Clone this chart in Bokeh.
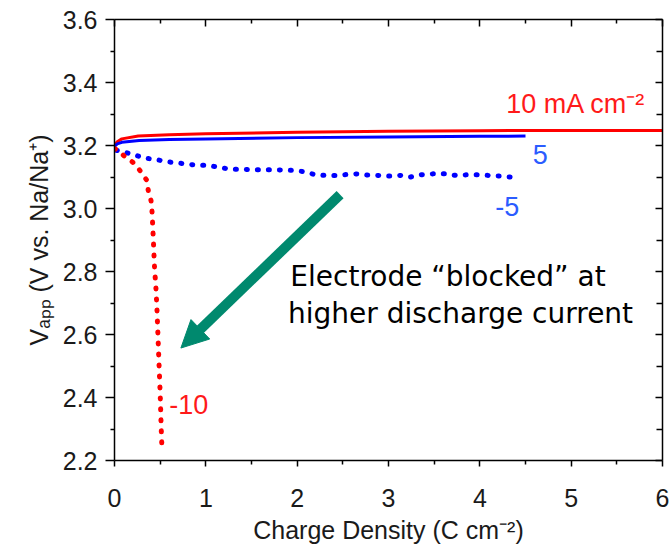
from bokeh.plotting import figure
from bokeh.models import LinearAxis, Range1d, FixedTicker, Arrow, NormalHead, ColumnDataSource
from bokeh.core.properties import value
from bokeh.embed import file_html
from bokeh.resources import INLINE

# ---- data ----
red_solid_x = [0.0, 0.03, 0.08, 0.26, 0.6, 1.0, 2.0, 3.0, 4.0, 5.0, 6.0]
red_solid_y = [3.200, 3.212, 3.221, 3.230, 3.234, 3.237, 3.242, 3.245, 3.247, 3.248, 3.248]

blue_solid_x = [0.0, 0.03, 0.08, 0.27, 0.6, 1.0, 2.0, 3.0, 4.0, 4.5]
blue_solid_y = [3.197, 3.205, 3.210, 3.216, 3.219, 3.221, 3.225, 3.227, 3.229, 3.230]

blue_dot_x = [0.02, 0.11, 0.22, 0.33, 0.45, 0.56, 0.68, 0.79, 0.91, 1.02, 1.14, 1.26, 1.38,
              1.49, 1.72, 1.95, 2.07, 2.19, 2.30, 2.43, 2.55, 2.66, 2.77, 2.89, 3.01, 3.13,
              3.24, 3.36, 3.49, 3.62, 3.74, 3.86, 3.97, 4.10, 4.22, 4.33, 4.44]
blue_dot_y = [3.185, 3.179, 3.170, 3.160, 3.156, 3.149, 3.145, 3.141, 3.137, 3.137, 3.131, 3.125, 3.125,
              3.123, 3.123, 3.121, 3.117, 3.108, 3.105, 3.105, 3.108, 3.110, 3.106, 3.105, 3.103, 3.105,
              3.100, 3.107, 3.110, 3.110, 3.105, 3.107, 3.107, 3.105, 3.103, 3.100, 3.097]

red_dot_x = [0.0, 0.03, 0.11, 0.20, 0.27, 0.35, 0.37, 0.40, 0.41, 0.416, 0.427, 0.438,
             0.453, 0.464, 0.475, 0.486, 0.50, 0.511, 0.519]
red_dot_y = [3.190, 3.186, 3.166, 3.147, 3.124, 3.091, 3.057, 3.025, 2.994, 2.960, 2.889, 2.814,
             2.750, 2.687, 2.603, 2.517, 2.413, 2.306, 2.242]

x_ticks = [0, 1, 2, 3, 4, 5, 6]
x_tick_labels = ["0", "1", "2", "3", "4", "5", "6"]
x_minor = [0.5, 1.5, 2.5, 3.5, 4.5, 5.5]
y_ticks = [2.2, 2.4, 2.6, 2.8, 3.0, 3.2, 3.4, 3.6]
y_tick_labels = ["2.2", "2.4", "2.6", "2.8", "3.0", "3.2", "3.4", "3.6"]
y_minor = [2.3, 2.5, 2.7, 2.9, 3.1, 3.3, 3.5]

label_text = ["10 mA cm\u207b\u00b2", "5", "-5", "-10"]
label_x = [4.29, 4.58, 4.17, 0.60]
label_y = [3.304, 3.144, 2.978, 2.349]
label_color = ["#ff1a1a", "#2b5cff", "#2b5cff", "#ff1a1a"]

note_text = ["Electrode \u201cblocked\u201d at", "higher discharge current"]
note_x = [1.925, 1.90]
note_y = [2.750, 2.632]

# ---- figure ----
p = figure(width=669, height=546, x_range=Range1d(0, 6), y_range=Range1d(2.2, 3.6),
           output_backend="svg", toolbar_location=None,
           min_border_left=114, min_border_right=7, min_border_top=19, min_border_bottom=86)
p.grid.visible = False
p.outline_line_color = None

FONT = "Liberation Sans"
xt = FixedTicker(ticks=x_ticks, minor_ticks=x_minor)
yt = FixedTicker(ticks=y_ticks, minor_ticks=y_minor)

xa = p.xaxis[0]
xa.ticker = xt
xa.major_label_overrides = dict(zip(x_ticks, x_tick_labels))
ya = p.yaxis[0]
ya.ticker = yt
ya.major_label_overrides = dict(zip(y_ticks, y_tick_labels))

for ax in (xa, ya):
    ax.axis_line_width = 1.5
    ax.axis_line_color = "black"
    ax.major_tick_line_width = 1.5
    ax.minor_tick_line_width = 1.5
    ax.major_tick_line_color = "black"
    ax.minor_tick_line_color = "black"
    ax.major_tick_in = 0
    ax.minor_tick_in = 0
    ax.major_label_text_font = FONT
    ax.major_label_text_font_size = "25px"
    ax.major_label_text_color = "#1a1a1a"
    ax.axis_label_text_font = FONT
    ax.axis_label_text_font_size = "25px"
    ax.axis_label_text_font_style = "normal"
    ax.axis_label_text_color = "#1a1a1a"

xa.major_tick_out = 6
xa.minor_tick_out = 4
xa.major_label_standoff = 22
xa.axis_label = "Charge Density (C cm\u207b\u00b2)"
xa.axis_label_standoff = 6

ya.major_tick_out = 9
ya.minor_tick_out = 4
ya.major_label_standoff = 8
ya.axis_label = "V\u2090\u209a\u209a (V vs. Na/Na\u207a)"
ya.axis_label_standoff = 7


def box_axis(ticker, ticks, major_in, minor_in):
    return LinearAxis(ticker=ticker, major_label_overrides={t: "" for t in ticks},
                      major_label_text_font_size="1px", major_label_standoff=0,
                      major_tick_in=major_in, major_tick_out=0, minor_tick_in=minor_in, minor_tick_out=0,
                      axis_line_width=1.5, axis_line_color="black",
                      major_tick_line_width=1.5, minor_tick_line_width=1.5,
                      major_tick_line_color="black", minor_tick_line_color="black")


p.add_layout(box_axis(xt, x_ticks, 7, 4), "above")
p.add_layout(box_axis(yt, y_ticks, 7, 6), "right")

# ---- series ----
p.line(red_solid_x, red_solid_y, line_color="#ff0000", line_width=3)
p.line(blue_solid_x, blue_solid_y, line_color="#0000ff", line_width=3)
p.line(blue_dot_x, blue_dot_y, line_color="#0000ff", line_width=5, line_dash="1 10", line_cap="round")
p.line(red_dot_x, red_dot_y, line_color="#ff0000", line_width=5, line_dash="1 10", line_cap="round")

lab_src = ColumnDataSource(dict(x=label_x, y=label_y, text=label_text, color=label_color))
p.text(x="x", y="y", text="text", text_color="color", source=lab_src, y_offset=-9,
       text_font=value(FONT), text_font_size="27px", text_baseline="alphabetic", text_align="left")

note_src = ColumnDataSource(dict(x=note_x, y=note_y, text=note_text))
p.text(x="x", y="y", text="text", source=note_src, text_color="black", y_offset=-11,
       text_font=value("DejaVu Sans"), text_font_size="28px", text_baseline="alphabetic", text_align="left")

green = "#00896e"
p.add_layout(Arrow(end=NormalHead(size=27, fill_color=green, line_color=green),
                   x_start=2.47, y_start=3.044, x_end=0.727, y_end=2.557,
                   line_color=green, line_width=10))

open("out.html", "w").write(file_html(p, INLINE))
